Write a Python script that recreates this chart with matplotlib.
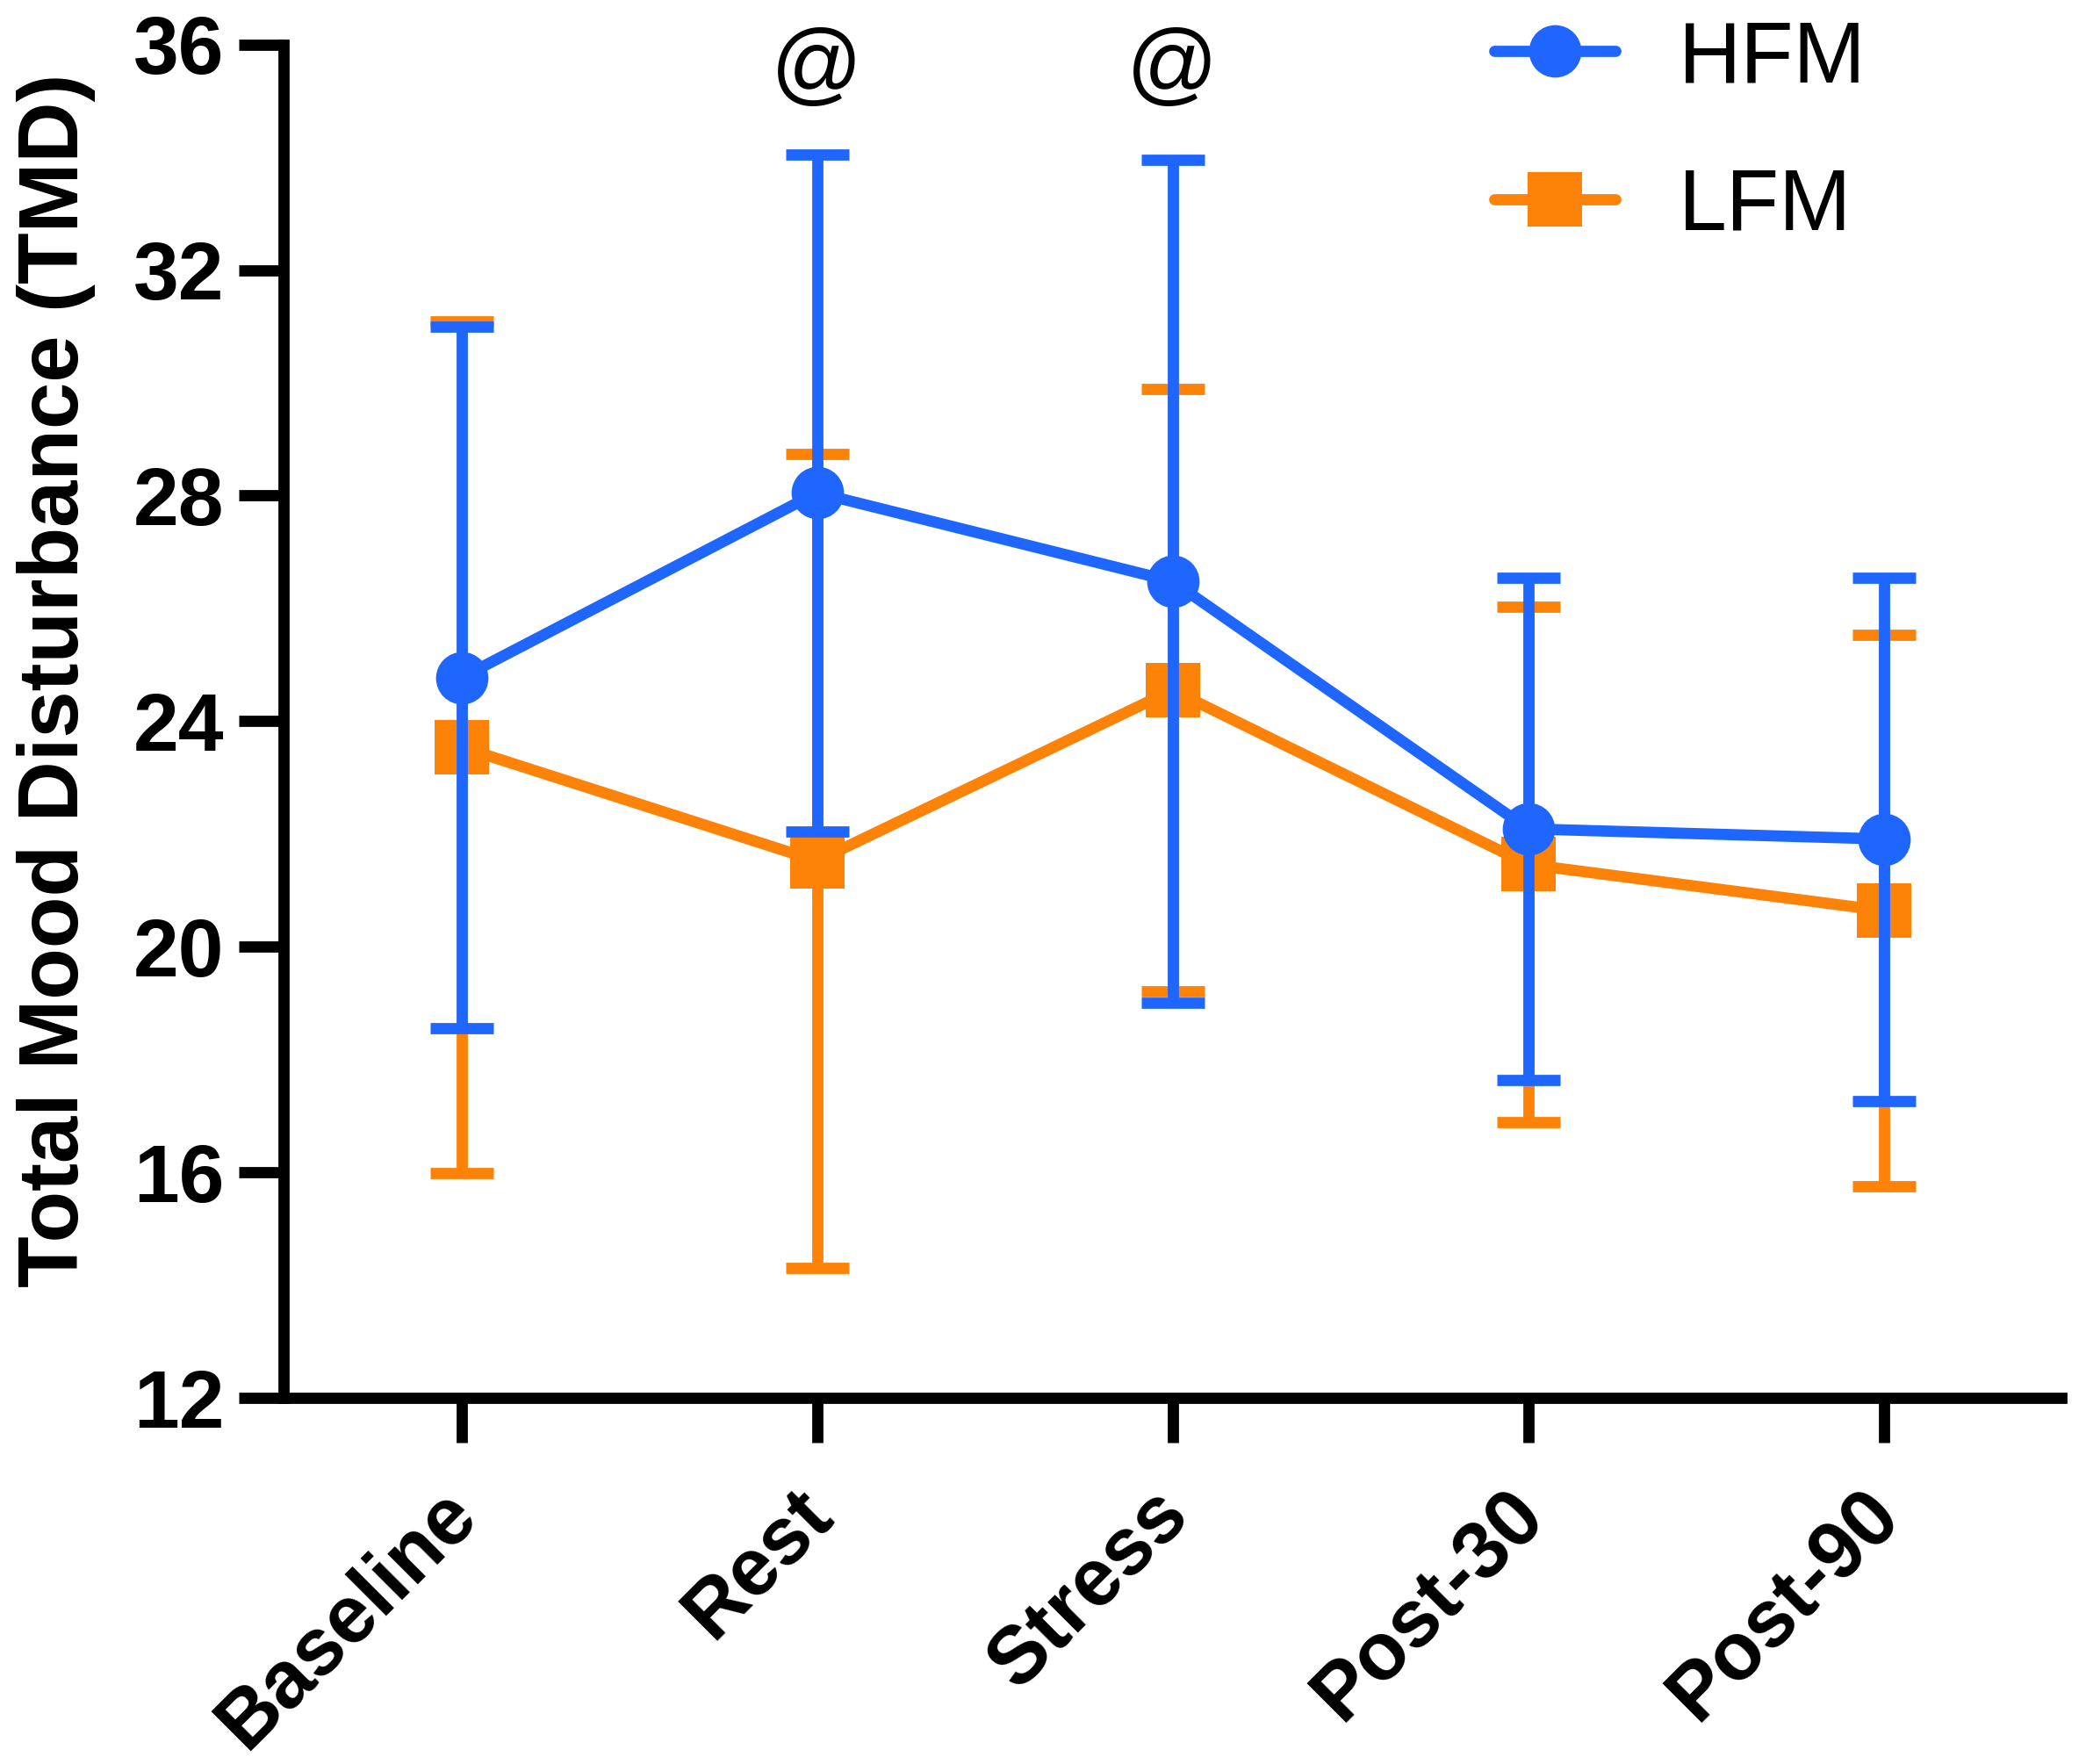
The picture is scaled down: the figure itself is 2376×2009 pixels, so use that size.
import matplotlib
matplotlib.use('Agg')
import matplotlib.pyplot as plt
import matplotlib.transforms as mtransforms
from matplotlib.lines import Line2D

# ---- data ----
categories = ['Baseline', 'Rest', 'Stress', 'Post-30', 'Post-90']
hfm_mean = [24.77, 28.05, 26.48, 22.09, 21.91]
hfm_sd = [6.22, 6.00, 7.47, 4.45, 4.64]
lfm_mean = [23.54, 21.52, 24.55, 21.46, 20.64]
lfm_sd = [7.55, 7.22, 5.34, 4.575, 4.89]
series_labels = ['HFM', 'LFM']
yticks = [12, 16, 20, 24, 28, 32, 36]
annot_categories = ['Rest', 'Stress']
annot_text = '@'
ylabel = 'Total Mood Disturbance (TMD)'

BLUE = '#1F66FF'
ORANGE = '#FD8208'

plt.rcParams['font.family'] = ['Liberation Sans', 'DejaVu Sans']
plt.rcParams['lines.solid_capstyle'] = 'round'

W, H = 2376, 2009
fig = plt.figure(figsize=(W / 100, H / 100), dpi=100)
ax_left, ax_right, ax_top, ax_bottom = 323, 2348, 50.6, 1592
ax = fig.add_axes([ax_left / W, 1 - ax_bottom / H,
                   (ax_right - ax_left) / W, (ax_bottom - ax_top) / H])

x = list(range(len(categories)))
LW = 9.2
CAP = 26

# LFM first (behind), HFM on top
ax.errorbar(x, lfm_mean, yerr=lfm_sd, fmt='none', ecolor=ORANGE,
            elinewidth=LW, capsize=CAP, capthick=LW, zorder=2)
ax.plot(x, lfm_mean, color=ORANGE, lw=LW, marker='s', ms=44, mew=0,
        zorder=3)
ax.errorbar(x, hfm_mean, yerr=hfm_sd, fmt='none', ecolor=BLUE,
            elinewidth=LW, capsize=CAP, capthick=LW, zorder=4)
ax.plot(x, hfm_mean, color=BLUE, lw=LW, marker='o', ms=43, mew=0,
        zorder=5)

for c in annot_categories:
    ax.text(categories.index(c), 35.55, annot_text, ha='center', va='center',
            fontsize=74, clip_on=False)

ax.set_xlim(-0.5, len(categories) - 0.5)
ax.set_ylim(12, 36)
ax.set_yticks(yticks)
ax.set_yticklabels([str(t) for t in yticks], fontsize=67, fontweight='bold')
ax.set_xticks(x)
ax.set_xticklabels([''] * len(categories))

# rotated category labels, anchored at their top-right corner below each tick
lab_tr = ax.get_xaxis_transform() + mtransforms.ScaledTranslation(
    -0.26, -0.89, fig.dpi_scale_trans)
for i, c in enumerate(categories):
    ax.text(i, 0, c, transform=lab_tr, fontsize=66, fontweight='bold',
            rotation=45, ha='right', va='top', rotation_mode='anchor',
            clip_on=False)

for s in ['top', 'right']:
    ax.spines[s].set_visible(False)
for s in ['left', 'bottom']:
    ax.spines[s].set_linewidth(LW)
ax.tick_params(axis='both', direction='out', length=36.7, width=LW)
ax.tick_params(axis='y', pad=12)

fig.text(64 / W, 1 - 775 / H, ylabel, rotation=90, ha='center', va='center',
         fontsize=69, fontweight='bold')

leg_handles = [Line2D([], [], color=BLUE, lw=LW, marker='o', ms=43, mew=0),
               Line2D([], [], color=ORANGE, lw=LW, marker='s', ms=44, mew=0)]
leg = fig.legend(leg_handles, series_labels, loc='upper left',
                 bbox_to_anchor=(1702 / W, 1 - 22 / H), frameon=False,
                 fontsize=71, handlelength=1.4, handletextpad=0.73,
                 labelspacing=0.79, borderpad=0, borderaxespad=0)

fig.savefig('out.png', dpi=100, facecolor='white')
